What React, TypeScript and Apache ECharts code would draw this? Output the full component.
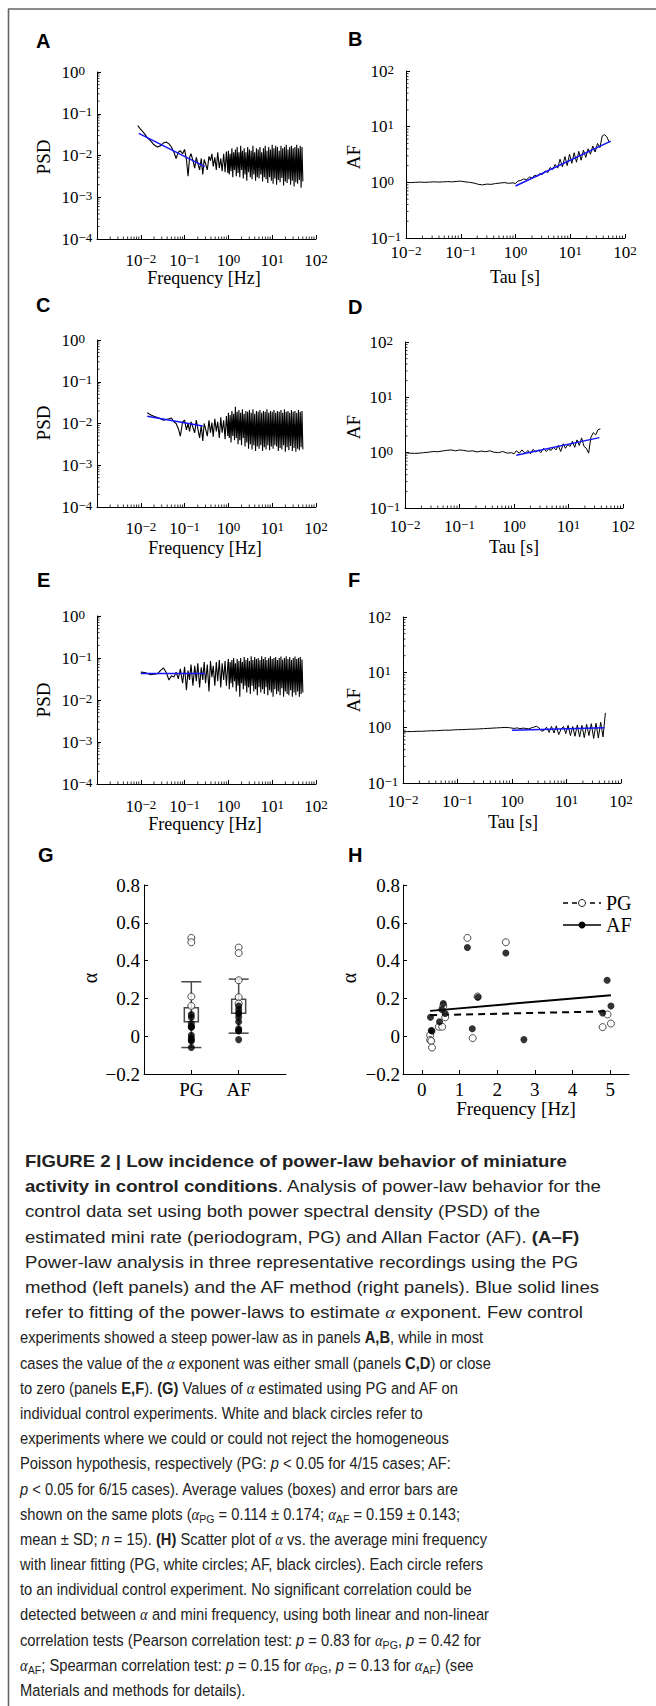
import React, { useEffect, useLayoutEffect, useRef } from "react";
import * as echarts from "echarts";

const SERIF = '"Liberation Serif", "Times New Roman", serif';
const SANS = '"Liberation Sans", Arial, sans-serif';

// ---------- Panels A, C, E : periodogram (PSD vs frequency [Hz]) ----------
const psdFreq = [
  0.0085, 0.01, 0.0125, 0.014, 0.017, 0.02, 0.024, 0.028, 0.033, 0.038,
  0.044, 0.05, 0.057, 0.064, 0.072, 0.08, 0.09, 0.1, 0.11, 0.12,
  0.13, 0.14, 0.155, 0.17, 0.185, 0.2, 0.22, 0.24, 0.26, 0.28,
  0.3, 0.33, 0.36, 0.39, 0.42, 0.45, 0.49, 0.53, 0.57, 0.62,
  0.67, 0.72, 0.78, 0.84, 0.9, 0.97,
  1, 1.047, 1.096, 1.148, 1.202, 1.259, 1.318, 1.38, 1.445, 1.514,
  1.585, 1.66, 1.738, 1.82, 1.905, 1.995, 2.089, 2.188, 2.291, 2.399,
  2.512, 2.63, 2.754, 2.884, 3.02, 3.162, 3.311, 3.467, 3.631, 3.802,
  3.981, 4.169, 4.365, 4.571, 4.786, 5.012, 5.248, 5.495, 5.754, 6.026,
  6.31, 6.607, 6.918, 7.244, 7.586, 7.943, 8.318, 8.71, 9.12, 9.55,
  10, 10.47, 10.96, 11.48, 12.02, 12.59, 13.18, 13.8, 14.45, 15.14,
  15.85, 16.6, 17.38, 18.2, 19.05, 19.95, 20.89, 21.88, 22.91, 23.99,
  25.12, 26.3, 27.54, 28.84, 30.2, 31.62, 33.11, 34.67, 36.31, 38.02,
  39.81, 41.69, 43.65, 45.71, 47.86, 50.12,
];
const psdA = [
  0.052, 0.042, 0.032, 0.027, 0.022, 0.018, 0.016, 0.017, 0.02, 0.021,
  0.019, 0.016, 0.012, 0.0085, 0.012, 0.013, 0.011, 0.014, 0.008, 0.0032,
  0.009, 0.011, 0.0075, 0.005, 0.009, 0.0065, 0.0045, 0.0085, 0.0035, 0.008,
  0.0065, 0.0045, 0.0095, 0.0075, 0.011, 0.0055, 0.009, 0.0045, 0.012, 0.005,
  0.0085, 0.0042, 0.011, 0.004, 0.0125, 0.0038,
  0.013, 0.0035, 0.011, 0.0042, 0.015, 0.003, 0.012, 0.0045, 0.014, 0.0032,
  0.016, 0.0038, 0.012, 0.003, 0.017, 0.0045, 0.013, 0.0028, 0.015, 0.0035,
  0.012, 0.0025, 0.016, 0.004, 0.014, 0.003, 0.013, 0.0027, 0.017, 0.0035,
  0.012, 0.0025, 0.015, 0.003, 0.014, 0.0028, 0.016, 0.0035, 0.012, 0.0024,
  0.015, 0.003, 0.017, 0.0027, 0.013, 0.0022, 0.016, 0.003, 0.014, 0.0025,
  0.018, 0.0021, 0.015, 0.0028, 0.017, 0.002, 0.016, 0.0026, 0.013, 0.0023,
  0.017, 0.0029, 0.015, 0.0019, 0.016, 0.0024, 0.018, 0.0022, 0.014, 0.0027,
  0.016, 0.002, 0.017, 0.0025, 0.015, 0.0018, 0.016, 0.0023, 0.018, 0.0021,
  0.015, 0.0026, 0.017, 0.0017, 0.016, 0.0024,
];
const psdC = [
  null, null, null, 0.018, 0.016, 0.015, 0.014, 0.013, 0.012, 0.0125,
  0.013, 0.0135, 0.011, 0.01, 0.0075, 0.005, 0.011, 0.012, 0.007, 0.01,
  0.0065, 0.011, 0.008, 0.006, 0.012, 0.0075, 0.0045, 0.009, 0.0038, 0.01,
  0.0075, 0.005, 0.012, 0.006, 0.0105, 0.0048, 0.013, 0.0065, 0.011, 0.0045,
  0.014, 0.006, 0.012, 0.0042, 0.015, 0.005,
  0.018, 0.0045, 0.016, 0.0035, 0.02, 0.005, 0.017, 0.004, 0.025, 0.0045,
  0.019, 0.0032, 0.021, 0.004, 0.018, 0.003, 0.022, 0.0045, 0.017, 0.0028,
  0.02, 0.0035, 0.019, 0.0025, 0.021, 0.0032, 0.018, 0.0024, 0.022, 0.003,
  0.017, 0.0022, 0.02, 0.0028, 0.019, 0.0025, 0.021, 0.003, 0.018, 0.0022,
  0.02, 0.0027, 0.019, 0.0024, 0.022, 0.003, 0.018, 0.0023, 0.02, 0.0028,
  0.019, 0.0025, 0.021, 0.003, 0.018, 0.0028, 0.02, 0.0022, 0.019, 0.0026,
  0.021, 0.0024, 0.018, 0.003, 0.022, 0.0021, 0.019, 0.0027, 0.02, 0.0023,
  0.018, 0.0029, 0.021, 0.0022, 0.019, 0.0026, 0.02, 0.0021, 0.018, 0.0025,
  0.021, 0.0023, 0.019, 0.0027, 0.02, 0.0024,
];
const psdE = [
  null, 0.046, 0.045, 0.043, 0.04, 0.041, 0.042, 0.05, 0.058, 0.045,
  0.03, 0.038, 0.035, 0.046, 0.032, 0.055, 0.025, 0.062, 0.017, 0.05,
  0.03, 0.07, 0.022, 0.065, 0.028, 0.075, 0.02, 0.06, 0.03, 0.08,
  0.025, 0.07, 0.016, 0.085, 0.035, 0.065, 0.022, 0.08, 0.028, 0.09,
  0.02, 0.075, 0.03, 0.085, 0.022, 0.07,
  0.095, 0.018, 0.08, 0.025, 0.09, 0.02, 0.1, 0.028, 0.075, 0.016,
  0.095, 0.022, 0.085, 0.012, 0.1, 0.025, 0.08, 0.018, 0.105, 0.022,
  0.09, 0.015, 0.1, 0.02, 0.085, 0.014, 0.11, 0.022, 0.09, 0.016,
  0.105, 0.018, 0.095, 0.013, 0.1, 0.02, 0.09, 0.015, 0.11, 0.018,
  0.095, 0.014, 0.105, 0.02, 0.09, 0.013, 0.1, 0.017, 0.11, 0.015,
  0.095, 0.012, 0.1, 0.018, 0.105, 0.014, 0.09, 0.016, 0.1, 0.013,
  0.108, 0.019, 0.092, 0.012, 0.1, 0.016, 0.11, 0.014, 0.095, 0.013,
  0.105, 0.017, 0.09, 0.012, 0.1, 0.015, 0.108, 0.013, 0.095, 0.016,
  0.1, 0.012, 0.105, 0.014, 0.092, 0.015,
];
const fitA = [[0.009, 0.034], [0.29, 0.0054]];
const fitC = [[0.014, 0.015], [0.26, 0.0087]];
const fitE = [[0.01, 0.043], [0.29, 0.043]];

// ---------- Panels B, D, F : Allan factor vs Tau [s] ----------
const afTau = [
  0.01, 0.012, 0.015, 0.018, 0.022, 0.027, 0.033, 0.04, 0.048, 0.058,
  0.07, 0.085, 0.1, 0.12, 0.145, 0.175, 0.21, 0.25, 0.3, 0.36,
  0.43, 0.52, 0.62, 0.75, 0.9, 1.0, 1.1, 1.25, 1.4, 1.6,
  1.8, 2.0, 2.25, 2.5, 2.8, 3.1, 3.5, 3.9, 4.3, 4.8,
  5.3, 5.9, 6.5, 7.2, 8.0, 8.8, 9.7, 10.7, 11.8, 13,
  14.3, 15.8, 17.4, 19.2, 21.2, 23.4, 25.8, 28.5, 31.5, 34.8,
  38.4, 42.4, 46.8, 51.7,
];
const afB = [
  1.0, 0.99, 1.0, 1.01, 1.0, 1.01, 1.02, 1.01, 1.02, 1.03,
  1.02, 1.04, 1.05, 1.02, 1.0, 0.97, 0.92, 0.9, 0.93, 0.92,
  0.95, 0.97, 0.99, 0.96, 0.98, 0.95, 1.05, 1.08, 1.15, 1.12,
  1.25, 1.2, 1.35, 1.28, 1.45, 1.38, 1.6, 1.5, 1.85, 1.7,
  2.1, 1.8, 2.6, 1.9, 2.9, 2.0, 3.2, 2.2, 3.4, 2.3,
  3.6, 2.5, 3.8, 2.8, 4.0, 3.2, 4.5, 3.5, 5.0, 4.2,
  6.8, 7.2, 6.5, 5.2,
];
const afD = [
  1.0, 0.98, 0.97, 0.98, 1.0, 1.02, 1.05, 1.04, 1.07, 1.1,
  1.12, 1.08, 1.12, 1.1, 1.06, 1.08, 1.03, 1.07, 1.04, 1.08,
  1.02, 1.0, 1.05, 0.98, 1.0, 0.95, 1.08, 0.98, 1.12, 0.97,
  1.1, 0.96, 1.15, 1.02, 1.12, 1.0, 1.2, 1.05, 1.15, 1.1,
  1.25, 1.12, 1.35, 1.05, 1.45, 1.2, 1.4, 1.3, 1.6, 1.25,
  1.7, 1.35, 1.85, 1.3, 1.2, 0.98, 1.9, 2.3, 2.1, 2.6,
  2.7, null, null, null,
];
const afF = [
  0.84, 0.85, 0.85, 0.86, 0.86, 0.87, 0.88, 0.88, 0.89, 0.9,
  0.9, 0.91, 0.92, 0.92, 0.93, 0.94, 0.94, 0.95, 0.96, 0.97,
  0.98, 0.99, 1.0, 1.01, 1.0, 0.98, 0.97, 0.99, 0.96, 0.98,
  0.97, 0.95, 0.99, 1.02, 1.06, 1.0, 0.86, 0.9, 1.02, 0.82,
  1.05, 0.8, 1.08, 0.75, 0.95, 1.05, 0.78, 1.1, 0.72, 1.05,
  0.7, 1.12, 0.68, 1.1, 0.66, 1.15, 0.72, 1.18, 0.64, 1.2,
  0.65, 1.25, 0.68, 1.85,
];
const fitB = [[1.0, 0.86], [55, 5.5]];
const fitD = [[1.1, 0.9], [37, 1.87]];
const fitF = [[1.0, 0.9], [50, 1.0]];

// ---------- Panel G : alpha per method ----------
const gCategories = ["PG", "AF"];
const gMeans = [0.114, 0.159];
const gSD = [0.174, 0.143];
const gPgOpen = [0.52, 0.497, 0.21, 0.16];
const gPgFilled = [0.115, 0.1, 0.067, 0.05, 0.05, 0.048, 0.005, -0.01, -0.02, -0.025, -0.06];
const gAfOpen = [0.469, 0.44, 0.296, 0.206, 0.173];
const gAfFilled = [0.16, 0.141, 0.123, 0.12, 0.1, 0.076, 0.039, 0.03, 0.028, -0.018];

// ---------- Panel H : alpha vs mini frequency ----------
const hTicks = [0, 1, 2, 3, 4, 5];
const hPG = [
  [1.21, 0.52], [2.23, 0.497], [1.48, 0.21], [0.57, 0.16], [0.62, 0.1], [0.45, 0.05], [0.54, 0.05],
  [4.8, 0.048], [4.93, 0.115], [5.02, 0.067], [0.22, 0.005], [1.35, -0.01], [0.22, -0.02], [0.25, -0.025], [0.27, -0.06],
];
const hAF = [
  [1.21, 0.469], [2.23, 0.44], [4.92, 0.296], [1.49, 0.206], [0.57, 0.173], [5.02, 0.16], [0.53, 0.141],
  [4.8, 0.123], [0.62, 0.12], [0.23, 0.1], [0.47, 0.076], [1.34, 0.039], [0.25, 0.03], [0.27, 0.028], [2.71, -0.018],
];
const hPgFit = [[0.22, 0.111], [5.0, 0.132]];
const hAfFit = [[0.22, 0.134], [5.02, 0.217]];

// ---------- helpers ----------
const MINUS = "\u2212";
const zip = (xs: number[], ys: (number | null)[]) =>
  xs.map((x, i) => [x, ys[i]]).filter((d) => d[1] !== null && d[1] !== undefined);

const minorValues = (lo: number, hi: number) => {
  const out: number[] = [];
  for (let e = Math.floor(Math.log10(lo)); e < Math.round(Math.log10(hi)); e++) {
    for (let m = 2; m <= 9; m++) {
      const v = m * Math.pow(10, e);
      if (v > lo && v < hi) out.push(v);
    }
  }
  return out;
};

const richLog = {
  b: { fontFamily: SERIF, fontSize: 17, lineHeight: 17, verticalAlign: "middle", color: "#000" },
  e: { fontFamily: SERIF, fontSize: 13, lineHeight: 1, verticalAlign: "top", color: "#000" },
};
const logLabel = (hideBelow?: number) => (v: number) => {
  const e = Math.round(Math.log10(v));
  if (hideBelow !== undefined && e < hideBelow) return "";
  return `{b|10}{e|${e < 0 ? MINUS + -e : e}}`;
};
const alphaLabel = (v: number) => {
  const r = Math.round(v * 10) / 10;
  if (r === 0) return "0";
  return (r < 0 ? MINUS : "") + Math.abs(r).toFixed(1);
};

const txt = (x: number, y: number, text: string, font: string, align = "center", rotation = 0) => ({
  type: "text",
  x,
  y,
  rotation,
  silent: true,
  style: {
    text,
    font,
    fill: "#000",
    textAlign: align,
    textVerticalAlign: "middle",
    align,
    verticalAlign: "middle",
  },
});

function buildOption() {
  const grid: any[] = [];
  const xAxis: any[] = [];
  const yAxis: any[] = [];
  const series: any[] = [];
  const graphic: any[] = [];

  const logPanels = [
    { left: 97, top: 72, width: 219, height: 167, xMin: 1e-3, xMax: 100, yMin: 1e-4, yMax: 1, hideBelow: -2, xMargin: 13, x: psdFreq, y: psdA, fit: fitA, w: 1.1 },
    { left: 406, top: 71, width: 219, height: 167, xMin: 1e-2, xMax: 100, yMin: 0.1, yMax: 100, xMargin: 6, x: afTau, y: afB, fit: fitB, w: 1 },
    { left: 97, top: 340, width: 219, height: 167, xMin: 1e-3, xMax: 100, yMin: 1e-4, yMax: 1, hideBelow: -2, xMargin: 13, x: psdFreq, y: psdC, fit: fitC, w: 1.1 },
    { left: 405, top: 342, width: 218, height: 166, xMin: 1e-2, xMax: 100, yMin: 0.1, yMax: 100, xMargin: 10, x: afTau, y: afD, fit: fitD, w: 1 },
    { left: 97, top: 616, width: 219, height: 168, xMin: 1e-3, xMax: 100, yMin: 1e-4, yMax: 1, hideBelow: -2, xMargin: 13.5, x: psdFreq, y: psdE, fit: fitE, w: 1.1 },
    { left: 403, top: 617, width: 218, height: 166, xMin: 1e-2, xMax: 100, yMin: 0.1, yMax: 100, xMargin: 10, x: afTau, y: afF, fit: fitF, w: 1 },
  ];

  const axisLine = { show: true, onZero: false, lineStyle: { color: "#000", width: 1 } };
  const axisTick = { show: true, inside: true, length: 4, lineStyle: { color: "#000", width: 1 } };

  logPanels.forEach((p, i) => {
    grid.push({ left: p.left, top: p.top, width: p.width, height: p.height });
    xAxis.push({
      gridIndex: i, type: "log", logBase: 10, min: p.xMin, max: p.xMax,
      axisLine, axisTick, splitLine: { show: false },
      axisLabel: { margin: p.xMargin, formatter: logLabel(p.hideBelow), rich: richLog, showMinLabel: true, showMaxLabel: true },
    });
    yAxis.push({
      gridIndex: i, type: "log", logBase: 10, min: p.yMin, max: p.yMax,
      axisLine, axisTick, splitLine: { show: false },
      axisLabel: { margin: 35.5, align: "left", formatter: logLabel(), rich: richLog, showMinLabel: true, showMaxLabel: true },
    });
    series.push({
      type: "line", xAxisIndex: i, yAxisIndex: i, data: zip(p.x, p.y), symbol: "none", silent: true,
      lineStyle: { color: "#000", width: p.w }, z: 3,
    });
    series.push({
      type: "line", xAxisIndex: i, yAxisIndex: i, data: p.fit, symbol: "none", silent: true,
      lineStyle: { color: "#1414ff", width: 1.5 }, z: 4,
    });
    series.push({
      type: "custom", xAxisIndex: i, yAxisIndex: i, silent: true, clip: false, z: 2,
      data: minorValues(p.xMin, p.xMax).map((v) => [v, p.yMin]),
      renderItem: (_: any, api: any) => {
        const c = api.coord([api.value(0), api.value(1)]);
        return { type: "line", shape: { x1: c[0], y1: c[1], x2: c[0], y2: c[1] - 2.5 }, style: { stroke: "#000", lineWidth: 0.8 } };
      },
    });
    series.push({
      type: "custom", xAxisIndex: i, yAxisIndex: i, silent: true, clip: false, z: 2,
      data: minorValues(p.yMin, p.yMax).map((v) => [p.xMin, v]),
      renderItem: (_: any, api: any) => {
        const c = api.coord([api.value(0), api.value(1)]);
        return { type: "line", shape: { x1: c[0], y1: c[1], x2: c[0] + 2.5, y2: c[1] }, style: { stroke: "#000", lineWidth: 0.8 } };
      },
    });
  });

  // ----- Panel G -----
  const gi = 6;
  grid.push({ left: 144, top: 885, width: 142, height: 189 });
  xAxis.push({
    gridIndex: gi, type: "value", min: 0, max: 3, axisLine, splitLine: { show: false },
    axisTick: { ...axisTick, customValues: [1, 2] },
    axisLabel: { customValues: [1, 2], formatter: (v: number) => gCategories[Math.round(v) - 1] || "", fontFamily: SERIF, fontSize: 19, color: "#000", margin: 6 },
  });
  yAxis.push({
    gridIndex: gi, type: "value", min: -0.2, max: 0.8, interval: 0.2, axisLine, axisTick, splitLine: { show: false },
    axisLabel: { formatter: alphaLabel, fontFamily: SERIF, fontSize: 19, color: "#000", margin: 4 },
  });
  series.push({
    type: "custom", xAxisIndex: gi, yAxisIndex: gi, silent: true, z: 2,
    data: gMeans.map((m, i) => [i + 1, m, gSD[i]]),
    renderItem: (_: any, api: any) => {
      const x = api.value(0), m = api.value(1), sd = api.value(2);
      const t = api.coord([x, m + sd]);
      const b = api.coord([x, m - sd]);
      const st = { stroke: "#4a4a4a", lineWidth: 1.5 };
      return {
        type: "group",
        children: [
          { type: "line", shape: { x1: t[0], y1: t[1], x2: b[0], y2: b[1] }, style: st },
          { type: "line", shape: { x1: t[0] - 10, y1: t[1], x2: t[0] + 10, y2: t[1] }, style: st },
          { type: "line", shape: { x1: b[0] - 10, y1: b[1], x2: b[0] + 10, y2: b[1] }, style: st },
        ],
      };
    },
  });
  series.push({
    type: "custom", xAxisIndex: gi, yAxisIndex: gi, silent: true, z: 3,
    data: gMeans.map((m, i) => [i + 1, m]),
    renderItem: (_: any, api: any) => {
      const c = api.coord([api.value(0), api.value(1)]);
      return { type: "rect", shape: { x: c[0] - 7, y: c[1] - 7, width: 14, height: 14 }, style: { fill: "none", stroke: "#4a4a4a", lineWidth: 1.5 } };
    },
  });
  const openStyle = { color: "#fff", borderColor: "#222", borderWidth: 1 };
  series.push({
    type: "scatter", xAxisIndex: gi, yAxisIndex: gi, symbol: "circle", symbolSize: 7, silent: true, z: 4,
    data: [...gPgOpen.map((v) => [1, v]), ...gAfOpen.map((v) => [2, v])], itemStyle: openStyle,
  });
  series.push({
    type: "scatter", xAxisIndex: gi, yAxisIndex: gi, symbol: "circle", symbolSize: 7, silent: true, z: 5,
    data: [...gPgFilled.map((v) => [1, v]), ...gAfFilled.map((v) => [2, v])], itemStyle: { color: "#000" },
  });

  // ----- Panel H -----
  const hi = 7;
  grid.push({ left: 403, top: 885, width: 226, height: 189 });
  xAxis.push({
    gridIndex: hi, type: "value", min: -0.5, max: 5.5, axisLine, splitLine: { show: false },
    axisTick: { ...axisTick, customValues: hTicks },
    axisLabel: { customValues: hTicks, formatter: (v: number) => String(Math.round(v)), fontFamily: SERIF, fontSize: 19, color: "#000", margin: 6 },
  });
  yAxis.push({
    gridIndex: hi, type: "value", min: -0.2, max: 0.8, interval: 0.2, axisLine, axisTick, splitLine: { show: false },
    axisLabel: { formatter: alphaLabel, fontFamily: SERIF, fontSize: 19, color: "#000", margin: 3 },
  });
  series.push({
    type: "line", xAxisIndex: hi, yAxisIndex: hi, data: hPgFit, symbol: "none", silent: true, z: 2,
    lineStyle: { color: "#000", width: 2, type: [7, 5] },
  });
  series.push({
    type: "line", xAxisIndex: hi, yAxisIndex: hi, data: hAfFit, symbol: "none", silent: true, z: 2,
    lineStyle: { color: "#000", width: 2 },
  });
  series.push({
    type: "scatter", xAxisIndex: hi, yAxisIndex: hi, symbol: "circle", symbolSize: 7, silent: true, z: 4,
    data: hPG, itemStyle: openStyle,
  });
  series.push({
    type: "scatter", xAxisIndex: hi, yAxisIndex: hi, symbol: "circle", symbolSize: 7, silent: true, z: 5,
    data: hAF, itemStyle: { color: "#000" },
  });

  // ----- frame -----
  graphic.push({ type: "line", silent: true, shape: { x1: 8, y1: 9, x2: 656, y2: 9 }, style: { stroke: "#666", lineWidth: 1.6 } });
  graphic.push({ type: "line", silent: true, shape: { x1: 8.5, y1: 9, x2: 8.5, y2: 1706 }, style: { stroke: "#666", lineWidth: 1.6 } });

  // ----- panel letters -----
  const LET = `bold 20px ${SANS}`;
  [["A", 36, 41], ["B", 348, 39], ["C", 36, 305], ["D", 348, 307], ["E", 37, 580], ["F", 348, 580], ["G", 38, 855], ["H", 348, 855]].forEach(
    ([t, x, y]) => graphic.push(txt(x as number, y as number, t as string, LET, "left"))
  );

  // ----- axis titles -----
  const XT = `18px ${SERIF}`;
  const YT = `19px ${SERIF}`;
  const R = Math.PI / 2;
  graphic.push(txt(204, 278, "Frequency [Hz]", XT));
  graphic.push(txt(43, 157, "PSD", YT, "center", R));
  graphic.push(txt(515, 277, "Tau [s]", XT));
  graphic.push(txt(353, 157, "AF", YT, "center", R));
  graphic.push(txt(205, 548, "Frequency [Hz]", XT));
  graphic.push(txt(43, 423, "PSD", YT, "center", R));
  graphic.push(txt(514, 547, "Tau [s]", XT));
  graphic.push(txt(353, 427, "AF", YT, "center", R));
  graphic.push(txt(205, 824, "Frequency [Hz]", XT));
  graphic.push(txt(43, 700, "PSD", YT, "center", R));
  graphic.push(txt(513, 822, "Tau [s]", XT));
  graphic.push(txt(353, 700, "AF", YT, "center", R));
  graphic.push(txt(90, 978, "\u03b1", `20px ${SERIF}`, "center", R));
  graphic.push(txt(349, 978, "\u03b1", `20px ${SERIF}`, "center", R));
  graphic.push(txt(516, 1108, "Frequency [Hz]", `19px ${SERIF}`));

  // ----- legend of H -----
  graphic.push({ type: "line", silent: true, shape: { x1: 563, y1: 903, x2: 601, y2: 903 }, style: { stroke: "#000", lineWidth: 1.5, lineDash: [5, 4] } });
  graphic.push({ type: "circle", silent: true, shape: { cx: 582, cy: 903, r: 3.5 }, style: { fill: "#fff", stroke: "#222", lineWidth: 1 } });
  graphic.push(txt(606, 903, "PG", `20px ${SERIF}`, "left"));
  graphic.push({ type: "line", silent: true, shape: { x1: 563, y1: 925, x2: 601, y2: 925 }, style: { stroke: "#000", lineWidth: 1.5 } });
  graphic.push({ type: "circle", silent: true, shape: { cx: 582, cy: 925, r: 3.5 }, style: { fill: "#000" } });
  graphic.push(txt(606, 925, "AF", `20px ${SERIF}`, "left"));

  return { animation: false, backgroundColor: "#fff", grid, xAxis, yAxis, series, graphic };
}

// ---------- caption ----------
const Al = () => <i style={{ fontFamily: SERIF }}>α</i>;
const Sub = ({ children }: any) => (
  <span style={{ fontSize: "0.72em", position: "relative", top: "0.25em" }}>{children}</span>
);

const upperLines = [
  <b>FIGURE 2 | Low incidence of power-law behavior of miniature</b>,
  <><b>activity in control conditions</b>. Analysis of power-law behavior for the</>,
  <>control data set using both power spectral density (PSD) of the</>,
  <>estimated mini rate (periodogram, PG) and Allan Factor (AF). <b>(A–F)</b></>,
  <>Power-law analysis in three representative recordings using the PG</>,
  <>method (left panels) and the AF method (right panels). Blue solid lines</>,
  <>refer to fitting of the power-laws to estimate <Al /> exponent. Few control</>,
];
const lowerLines = [
  <>experiments showed a steep power-law as in panels <b>A,B</b>, while in most</>,
  <>cases the value of the <Al /> exponent was either small (panels <b>C,D</b>) or close</>,
  <>to zero (panels <b>E,F</b>). <b>(G)</b> Values of <Al /> estimated using PG and AF on</>,
  <>individual control experiments. White and black circles refer to</>,
  <>experiments where we could or could not reject the homogeneous</>,
  <>Poisson hypothesis, respectively (PG: <i>p</i> &lt; 0.05 for 4/15 cases; AF:</>,
  <><i>p</i> &lt; 0.05 for 6/15 cases). Average values (boxes) and error bars are</>,
  <>shown on the same plots (<Al /><Sub>PG</Sub> = 0.114 ± 0.174; <Al /><Sub>AF</Sub> = 0.159 ± 0.143;</>,
  <>mean ± SD; <i>n</i> = 15). <b>(H)</b> Scatter plot of <Al /> vs. the average mini frequency</>,
  <>with linear fitting (PG, white circles; AF, black circles). Each circle refers</>,
  <>to an individual control experiment. No significant correlation could be</>,
  <>detected between <Al /> and mini frequency, using both linear and non-linear</>,
  <>correlation tests (Pearson correlation test: <i>p</i> = 0.83 for <Al /><Sub>PG</Sub>, <i>p</i> = 0.42 for</>,
  <><Al /><Sub>AF</Sub>; Spearman correlation test: <i>p</i> = 0.15 for <Al /><Sub>PG</Sub>, <i>p</i> = 0.13 for <Al /><Sub>AF</Sub>) (see</>,
  <>Materials and methods for details).</>,
];

const LINE_H = 25.2;

export default function App() {
  const chartRef = useRef<HTMLDivElement>(null);
  const upRef = useRef<HTMLDivElement>(null);
  const loRef = useRef<HTMLDivElement>(null);

  useEffect(() => {
    if (!chartRef.current) return;
    const chart = echarts.init(chartRef.current, null, { renderer: "svg" });
    chart.setOption(buildOption() as any);
    return () => chart.dispose();
  }, []);

  useLayoutEffect(() => {
    const fit = (el: HTMLDivElement | null, refIdx: number, target: number) => {
      if (!el) return;
      const lines = Array.from(el.children) as HTMLElement[];
      lines.forEach((l) => (l.style.transform = ""));
      const span = lines[refIdx].firstElementChild as HTMLElement;
      const w = span.getBoundingClientRect().width;
      if (!w) return;
      const k = target / w;
      lines.forEach((l) => (l.style.transform = `scaleX(${k})`));
    };
    const run = () => {
      fit(upRef.current, 5, 574);
      fit(loRef.current, 11, 469);
    };
    run();
    const f: any = (document as any).fonts;
    if (f && f.ready) f.ready.then(run);
  }, []);

  const lineStyle: React.CSSProperties = { height: LINE_H, lineHeight: `${LINE_H}px`, whiteSpace: "nowrap", transformOrigin: "0 50%" };

  return (
    <div style={{ position: "absolute", left: 0, top: 0, width: 656, height: 1706, background: "#fff", overflow: "hidden" }}>
      <div ref={chartRef} style={{ position: "absolute", left: 0, top: 0, width: 656, height: 1706 }} />
      <div ref={upRef} style={{ position: "absolute", left: 25, top: 1149, fontFamily: SANS, fontSize: 17, color: "#222" }}>
        {upperLines.map((l, i) => (
          <div key={i} style={lineStyle}><span>{l}</span></div>
        ))}
      </div>
      <div ref={loRef} style={{ position: "absolute", left: 20, top: 1149 + 7 * LINE_H, fontFamily: SANS, fontSize: 16.3, color: "#222" }}>
        {lowerLines.map((l, i) => (
          <div key={i} style={lineStyle}><span>{l}</span></div>
        ))}
      </div>
    </div>
  );
}
